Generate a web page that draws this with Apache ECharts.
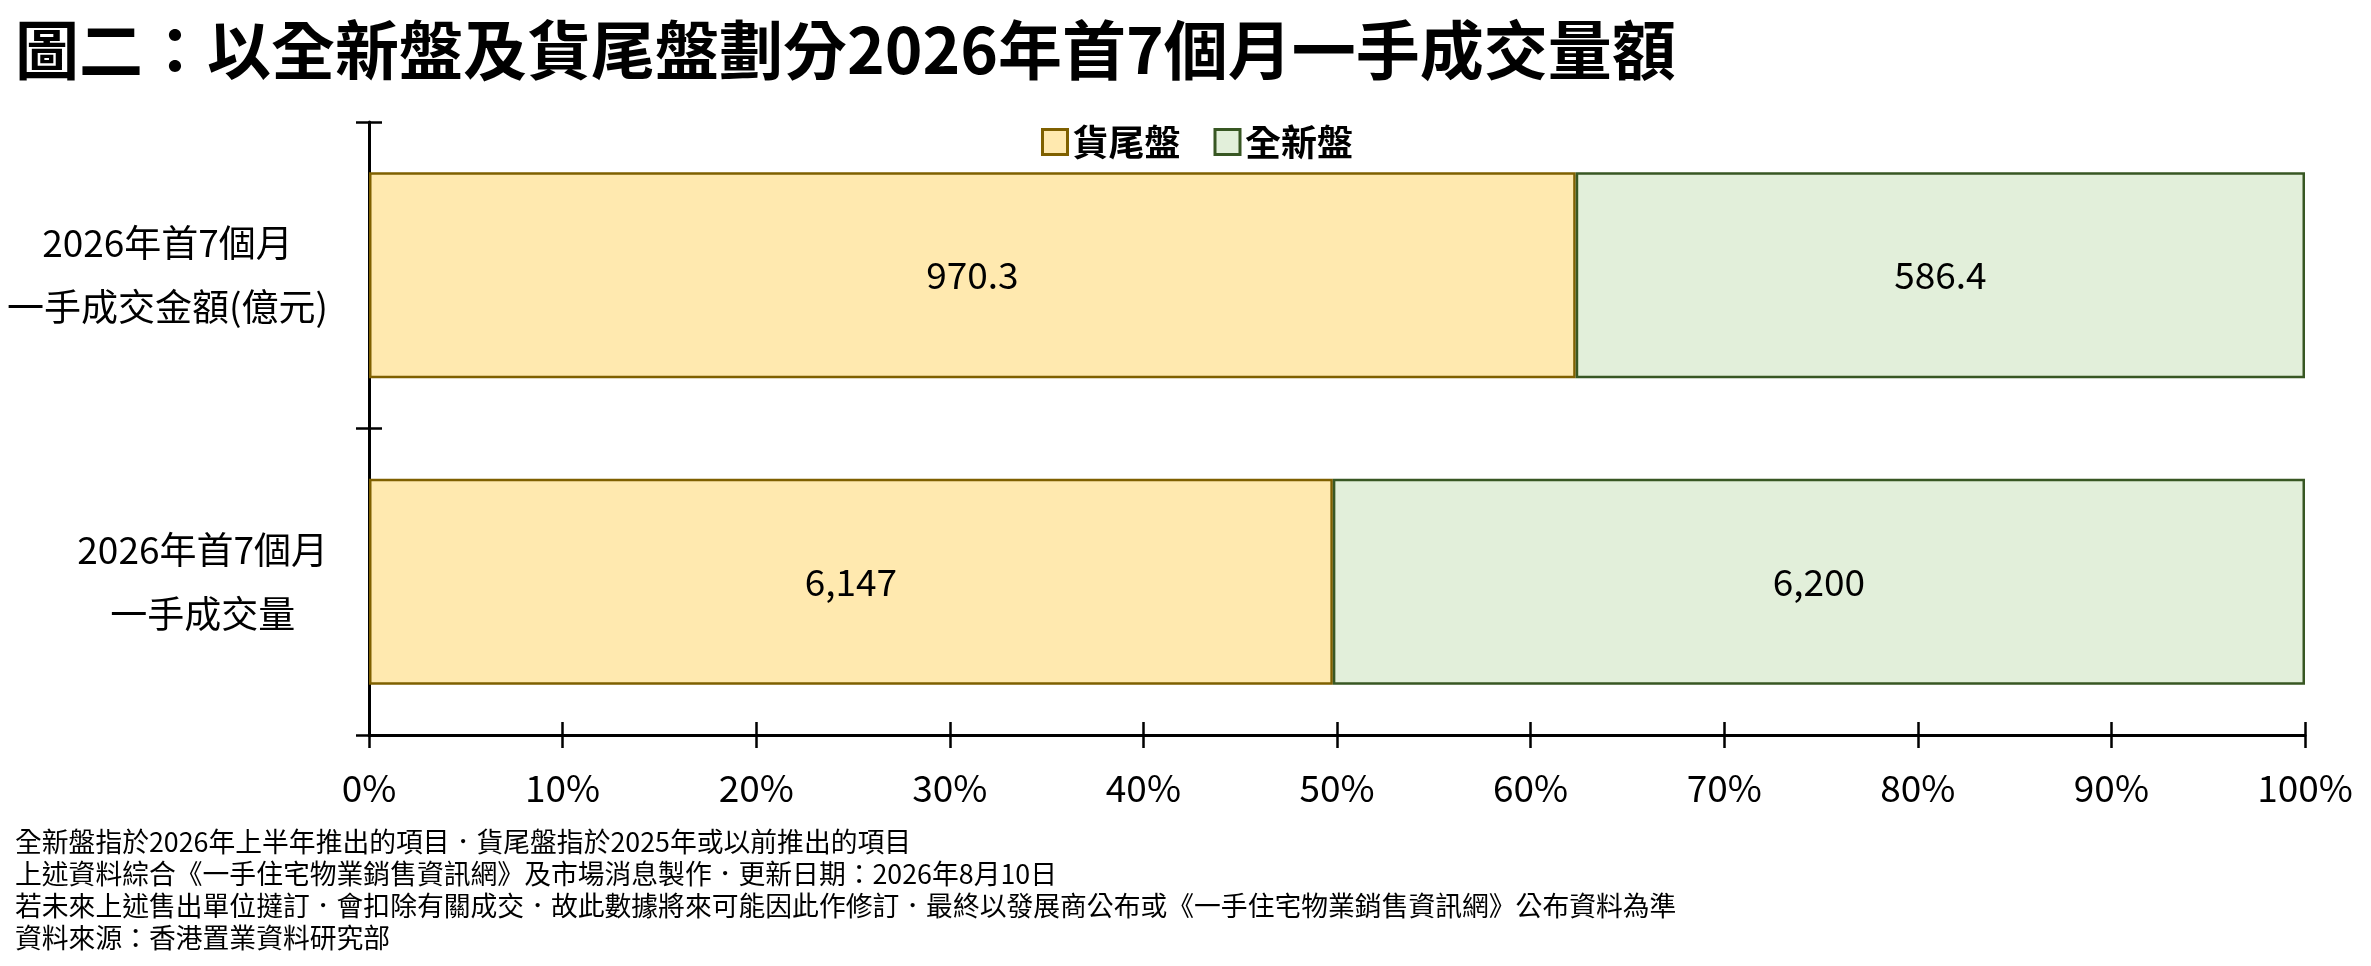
<!DOCTYPE html>
<html>
<head>
<meta charset="utf-8">
<script src="https://cdn.jsdelivr.net/npm/echarts@6/dist/echarts.min.js"></script>
<style>
  html, body { margin: 0; padding: 0; background: #fff; }
  #chart { width: 2371px; height: 966px; }
</style>
</head>
<body>
<div id="chart"></div>
<script>
// 分類（由上至下）
var categories = ['2026年首7個月\n一手成交金額(億元)', '2026年首7個月\n一手成交量'];
var seriesNames = ['貨尾盤', '全新盤'];
var oldStock = [970.3, 6147];   // 貨尾盤
var newProj = [586.4, 6200];    // 全新盤
var notes = [
  '全新盤指於2026年上半年推出的項目．貨尾盤指於2025年或以前推出的項目',
  '上述資料綜合《一手住宅物業銷售資訊網》及市場消息製作．更新日期：2026年8月10日',
  '若未來上述售出單位撻訂．會扣除有關成交．故此數據將來可能因此作修訂．最終以發展商公布或《一手住宅物業銷售資訊網》公布資料為準',
  '資料來源：香港置業資料研究部'
];

var FONT = '"Noto Sans CJK TC", "Noto Sans", sans-serif';

// 換算成百分比 (100% 堆疊)
function toPct(arr) {
  return arr.map(function (v, i) {
    return v / (oldStock[i] + newProj[i]) * 100;
  });
}
function rawLabel(raw) {
  return function (p) {
    return raw[p.dataIndex].toLocaleString('en-US');
  };
}

var myChart = echarts.init(document.getElementById('chart'));

var tickStyle = { color: '#000', width: 2.5 };

var option = {
  backgroundColor: '#fff',
  animation: false,
  textStyle: { fontFamily: FONT },
  title: {
    text: '圖二：以全新盤及貨尾盤劃分2026年首7個月一手成交量額',
    left: 10,
    top: 13,
    textStyle: { fontSize: 64, fontWeight: 'bold', color: '#000', fontFamily: FONT }
  },
  legend: {
    left: 1036,
    top: 119,
    icon: 'rect',
    itemWidth: 25,
    itemHeight: 25,
    itemGap: 33,
    itemStyle: { borderWidth: 3 },
    textStyle: { fontSize: 36, fontWeight: 'bold', color: '#000', fontFamily: FONT },
    data: seriesNames
  },
  grid: { left: 369, right: 66, top: 122, bottom: 231, containLabel: false },
  xAxis: [
    {
      type: 'value', min: 0, max: 100, interval: 10,
      axisLine: { show: true, lineStyle: { color: '#000', width: 3 } },
      axisTick: { show: true, length: 13, lineStyle: tickStyle },
      axisLabel: { formatter: '{value}%', margin: 34, fontSize: 37, color: '#000', fontFamily: FONT },
      splitLine: { show: false }
    },
    {
      type: 'value', min: 0, max: 100, interval: 10, position: 'bottom',
      axisLine: { show: false },
      axisTick: { show: true, inside: true, length: 13, lineStyle: tickStyle },
      axisLabel: { show: false },
      splitLine: { show: false }
    }
  ],
  yAxis: [
    {
      type: 'category', data: categories, inverse: true,
      axisLine: { show: true, lineStyle: { color: '#000', width: 3 } },
      axisTick: { show: true, length: 13, lineStyle: tickStyle },
      axisLabel: {
        margin: 41,
        formatter: function (v) {
          return v.split('\n').map(function (s) { return '{c|' + s + '}'; }).join('\n');
        },
        rich: {
          c: { align: 'center', fontSize: 37, lineHeight: 64, color: '#000', fontFamily: FONT }
        }
      }
    },
    {
      type: 'category', data: categories, inverse: true, position: 'left',
      axisLine: { show: false },
      axisTick: { show: true, inside: true, length: 13, lineStyle: tickStyle },
      axisLabel: { show: false }
    }
  ],
  series: [
    {
      name: seriesNames[0], type: 'bar', stack: 'total', barWidth: 206,
      data: toPct(oldStock),
      itemStyle: { color: '#FFE9AF', borderColor: '#7F6000', borderWidth: 2.5 },
      label: { show: true, position: 'inside', formatter: rawLabel(oldStock), fontSize: 37, color: '#000', fontFamily: FONT }
    },
    {
      name: seriesNames[1], type: 'bar', stack: 'total', barWidth: 206,
      data: toPct(newProj),
      itemStyle: { color: '#E2EFDA', borderColor: '#385723', borderWidth: 2.5 },
      label: { show: true, position: 'inside', formatter: rawLabel(newProj), fontSize: 37, color: '#000', fontFamily: FONT }
    }
  ],
  graphic: [
    {
      type: 'text', left: 15, top: 826,
      style: { text: notes.join('\n'), font: '26.8px ' + FONT, lineHeight: 32, fill: '#000' }
    }
  ]
};

myChart.setOption(option);
</script>
</body>
</html>
